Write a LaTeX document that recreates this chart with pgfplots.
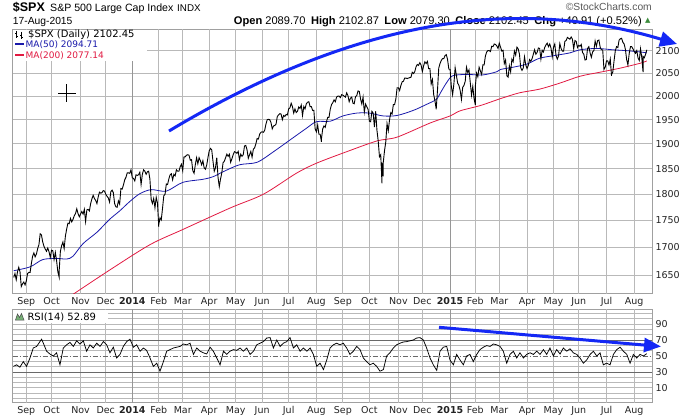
\documentclass[border=0pt]{standalone}
\usepackage{fontspec}
\setmainfont{DejaVu Sans}
\newfontfamily\arialf{Liberation Sans}
\usepackage{pgfplots}
\pgfplotsset{compat=1.18}
\usetikzlibrary{arrows.meta}

\definecolor{gridgray}{RGB}{185,185,185}
\definecolor{yeargray}{RGB}{150,150,150}
\definecolor{framegray}{RGB}{160,160,160}
\definecolor{ticktext}{RGB}{35,35,35}
\definecolor{maf}{RGB}{25,25,170}
\definecolor{mat}{RGB}{225,25,65}
\definecolor{annot}{RGB}{20,40,245}
\definecolor{refline}{RGB}{105,105,105}
\definecolor{upgreen}{RGB}{60,140,60}

% x = trading day, 0 = 2 Jan 2014
\pgfplotsset{
  chartbase/.style={
    scale only axis, width=639.3pt,
    xmin=-94.8, xmax=412.1,
    xtick={-84,-64,-41,-21,0,21,40,61,82,103,124,146,167,188,211,230,252,272,291,313,334,354,376,398},
    xticklabels={Sep,Oct,Nov,Dec,\textbf{2014},Feb,Mar,Apr,May,Jun,Jul,Aug,Sep,Oct,Nov,Dec,\textbf{2015},Feb,Mar,Apr,May,Jun,Jul,Aug},
    extra x ticks={-84,-64,-41,-21,21,40,61,82,103,124,146,167,188,211,230,272,291,313,334,354,376,398},
    extra x tick labels={},
    extra x tick style={grid=major, major grid style={draw=gridgray, line width=1pt}},
    extra y tick labels={},
    extra y tick style={grid=major, major grid style={draw=gridgray, line width=1pt}},
    yticklabel pos=right,
    major tick length=0pt, minor tick length=0pt,
    ticklabel style={font=\fontsize{9.5}{11}\selectfont, text=ticktext},
    /pgf/number format/assume math mode=true,
    axis line style={draw=framegray, line width=1pt},
  }
}

\begin{document}
\begin{tikzpicture}
\useasboundingbox (0,0) rectangle (692pt,-419pt);

% ---------------- price panel ----------------
\begin{axis}[chartbase,
  at={(12.7pt,-29.3pt)}, anchor=north west, height=264.7pt,
  ymode=log, ymin=1617.2, ymax=2148.9,
  ytick={1650,1700,1750,1800,1850,1900,1950,2000,2050,2100},
  yticklabels={1650,1700,1750,1800,1850,1900,1950,2000,2050,2100},
  extra y ticks={1650,1700,1750,1800,1850,1900,1950,2000,2050,2100},
]
\draw[yeargray, line width=1pt] (axis cs:0,1617.2) -- (axis cs:0,2148.9);
\draw[yeargray, line width=1pt] (axis cs:252,1617.2) -- (axis cs:252,2148.9);
% MA(200)
\addplot[mat, line width=0.8pt, smooth] coordinates {
 (-48,1615) (-18,1659) (14,1705) (40,1733) (78,1774) (104,1800) (130,1841)
 (146,1861) (170,1884) (194,1906) (210,1914) (236,1943) (252,1958) (260,1969)
 (276,1980) (292,1995) (307,2007) (323,2015) (339,2028) (355,2043) (371,2052)
 (387,2061) (403,2072) (408,2077)};
% MA(50)
\addplot[maf, line width=0.8pt, smooth] coordinates {
 (-94,1658) (-81,1665) (-71,1678) (-60,1680) (-52,1679) (-47,1684) (-39,1707)
 (-28,1728) (-18,1752) (-10,1768) (-2,1786) (6,1801) (15,1809) (27,1806)
 (40,1823) (56,1829) (64,1834) (72,1844) (85,1858) (99,1863) (112,1884)
 (125,1908) (138,1932) (146,1946) (157,1947) (167,1958) (178,1964) (188,1964)
 (199,1958) (210,1959) (223,1970) (233,1982) (241,1993) (245,2010) (249,2028)
 (254,2044) (265,2047) (278,2046) (289,2053) (292,2058) (302,2063) (313,2070)
 (323,2083) (337,2090) (347,2095) (355,2102) (368,2105) (381,2102) (392,2100)
 (403,2097) (408,2095)};
% daily closes (with a few intraday lows)
\addplot[black, line width=0.9pt] coordinates {
 (-94,1646) (-93,1653) (-92,1642) (-91,1656) (-90,1664) (-89,1656) (-88,1630) (-87,1635) (-86,1638) (-85,1633)
 (-84,1640) (-83,1653) (-82,1655) (-81,1655) (-80,1671) (-79,1684) (-78,1690) (-77,1683) (-76,1688) (-75,1698)
 (-74,1705) (-73,1725) (-72,1723) (-71,1710) (-70,1702) (-69,1697) (-68,1693) (-67,1699) (-66,1692) (-65,1682)
 (-64,1695) (-63,1694) (-62,1678) (-61,1691) (-60,1676) (-59,1656) (-58,1647) (-58,1656) (-57,1693) (-56,1703) (-55,1710)
 (-54,1698) (-53,1721) (-52,1734) (-51,1745) (-50,1744) (-49,1754) (-48,1747) (-47,1752) (-46,1759) (-45,1763)
 (-44,1772) (-43,1763) (-42,1757)
 (-41,1762) (-40,1767) (-39,1762) (-38,1771) (-37,1748) (-36,1770) (-35,1771) (-34,1768) (-33,1782) (-32,1791)
 (-31,1798) (-30,1792) (-29,1788) (-28,1782) (-27,1795) (-26,1804) (-25,1802) (-24,1803) (-23,1807) (-22,1806)
 (-21,1800) (-20,1796) (-19,1793) (-18,1785) (-17,1805) (-16,1808) (-15,1803) (-14,1782) (-13,1776) (-12,1775)
 (-11,1787) (-10,1781) (-9,1811) (-8,1810) (-7,1818) (-6,1828) (-5,1833) (-4,1842) (-3,1842) (-2,1841) (-1,1848)
 (0,1832) (1,1831) (2,1826) (3,1838) (4,1837) (5,1838) (6,1843) (7,1819) (8,1839) (9,1848)
 (10,1845) (11,1839) (12,1844) (13,1845) (14,1829) (15,1790) (16,1782) (17,1792) (18,1774) (19,1794) (20,1783)
 (21,1738) (21,1742) (22,1755) (23,1751) (24,1773) (25,1797) (26,1800) (27,1820) (28,1819) (29,1830) (30,1838)
 (31,1840) (32,1828) (33,1839) (34,1836) (35,1848) (36,1845) (37,1845) (38,1854) (39,1859)
 (40,1846) (41,1874) (42,1874) (43,1877) (44,1878) (45,1877) (46,1867) (47,1868) (48,1846) (49,1841)
 (50,1858) (51,1872) (52,1860) (53,1872) (54,1866) (55,1858) (56,1866) (57,1852) (58,1849) (59,1857) (60,1872)
 (61,1886) (62,1891) (63,1888) (64,1865) (65,1845) (66,1852) (67,1872) (68,1833) (69,1815) (70,1830)
 (71,1842) (72,1862) (73,1865) (74,1872) (75,1879) (76,1875) (77,1879) (78,1863) (79,1870) (80,1878) (81,1884)
 (82,1883) (83,1881) (84,1885) (85,1868) (86,1879) (87,1875) (88,1878) (89,1896) (90,1897) (91,1888)
 (92,1871) (93,1878) (94,1885) (95,1873) (96,1889) (97,1892) (98,1900) (99,1911) (100,1910) (101,1920) (102,1924)
 (103,1925) (104,1924) (105,1928) (106,1941) (107,1950) (108,1951) (109,1950) (110,1944) (111,1931) (112,1937)
 (113,1938) (114,1941) (115,1957) (116,1960) (117,1963) (118,1962) (119,1950) (120,1959) (121,1957) (122,1961) (123,1960)
 (124,1973) (125,1975) (126,1985) (127,1978) (128,1964) (129,1973) (130,1965) (131,1968) (132,1977) (133,1974)
 (134,1981) (135,1959) (136,1978) (137,1973) (138,1984) (139,1987) (140,1988) (141,1978) (142,1978) (143,1970)
 (144,1970) (145,1931)
 (146,1925) (147,1939) (148,1920) (149,1920) (150,1904) (150,1910) (151,1931) (152,1937) (153,1934) (154,1946) (155,1955)
 (156,1955) (157,1972) (158,1982) (159,1986) (160,1992) (161,1988) (162,1998) (163,2000) (164,2000) (165,1997) (166,2003)
 (167,2002) (168,2000) (169,1998) (170,2007) (171,2001) (172,1988) (173,1996) (174,1998) (175,1985) (176,1984)
 (177,1999) (178,2001) (179,2011) (180,2010) (181,1994) (182,1983) (183,1998) (184,1966) (185,1983) (186,1977) (187,1972)
 (188,1947) (189,1946) (190,1968) (191,1964) (192,1935) (193,1968) (194,1928) (195,1906) (196,1874) (197,1878)
 (198,1821) (198,1862) (199,1835) (199,1862) (200,1886) (201,1904) (202,1942) (203,1927) (204,1950) (205,1965) (206,1962)
 (207,1982) (208,1982) (209,1994) (210,2018)
 (211,2018) (212,2012) (213,2023) (214,2031) (215,2032) (216,2039) (217,2039) (218,2038) (219,2039) (220,2040)
 (221,2041) (222,2052) (223,2049) (224,2053) (225,2064) (226,2069) (227,2067) (228,2073) (229,2068)
 (230,2053) (231,2066) (232,2075) (233,2071) (234,2076) (235,2060) (236,2060) (237,2026) (238,2036) (239,2003)
 (240,1990) (241,1972) (241,1973) (242,2012) (243,2061) (244,2071) (245,2078) (246,2082) (247,2082) (248,2089) (249,2091)
 (250,2080) (251,2059)
 (252,2058) (253,2021) (254,2003) (255,2026) (256,2062) (257,2045) (258,2028) (259,2023) (260,2012) (261,1993)
 (262,2019) (263,2023) (264,2032) (265,2063) (266,2051) (267,2057) (268,2029) (269,2002) (270,2021) (271,1995)
 (272,1981) (272,2021) (273,2050) (274,2042) (275,2063) (276,2055) (277,2047) (278,2068) (279,2068) (280,2088) (281,2097)
 (282,2100) (283,2100) (284,2098) (285,2110) (286,2109) (287,2115) (288,2114) (289,2111) (290,2105)
 (291,2117) (292,2108) (293,2099) (294,2101) (295,2071) (296,2079) (297,2044) (298,2041) (299,2066) (300,2053)
 (301,2081) (302,2075) (303,2099) (304,2090) (305,2108) (306,2104) (307,2092) (308,2062) (309,2056) (310,2061)
 (311,2086) (312,2068)
 (313,2060) (314,2067) (315,2080) (316,2076) (317,2082) (318,2092) (319,2102) (320,2092) (321,2096) (322,2106)
 (323,2105) (324,2081) (325,2101) (326,2097) (327,2107) (328,2113) (329,2117) (330,2109) (331,2115) (332,2106) (333,2086)
 (334,2108) (335,2115) (336,2089) (337,2081) (338,2088) (339,2116) (340,2105) (341,2099) (342,2099) (343,2121)
 (344,2123) (345,2130) (346,2128) (347,2126) (348,2131) (349,2126) (350,2104) (351,2123) (352,2121) (353,2107)
 (354,2112) (355,2110) (356,2114) (357,2096) (358,2092) (359,2079) (360,2080) (361,2105) (362,2109) (363,2095)
 (364,2085) (365,2097) (366,2100) (367,2122) (368,2110) (369,2123) (370,2124) (371,2108) (372,2102) (373,2102)
 (374,2058) (375,2063)
 (376,2077) (377,2077) (378,2068) (379,2081) (380,2044) (380,2047) (381,2052) (382,2077) (383,2100) (384,2109) (385,2107)
 (386,2124) (387,2127) (388,2128) (389,2119) (390,2115) (391,2103) (392,2080) (393,2068) (394,2093) (395,2109)
 (396,2109) (397,2104)
 (398,2098) (399,2094) (400,2100) (401,2084) (402,2078) (403,2104) (404,2084) (405,2052) (405,2087) (406,2084)
 (407,2092) (408,2102)};
\end{axis}

% ---------------- RSI panel ----------------
\begin{axis}[chartbase,
  at={(12.7pt,-309.3pt)}, anchor=north west, height=93.4pt,
  ymin=-8.4, ymax=108.4,
  ytick={10,30,50,70,90},
  extra y ticks={-3.33,3.33,10,16.67,23.33,36.67,43.33,56.67,63.33,76.67,83.33,90,96.67,103.33},
]
\draw[yeargray, line width=1pt] (axis cs:0,-8.4) -- (axis cs:0,108.4);
\draw[yeargray, line width=1pt] (axis cs:252,-8.4) -- (axis cs:252,108.4);
\addplot[refline, line width=0.9pt] coordinates {(-94.8,70) (412.1,70)};
\addplot[refline, line width=0.9pt] coordinates {(-94.8,30) (412.1,30)};
\addplot[refline, line width=0.8pt, dash pattern=on 5pt off 2pt on 1pt off 2pt] coordinates {(-94.8,50) (412.1,50)};
\addplot[black, line width=0.75pt] coordinates {
 (-94.3,37) (-91.7,39) (-89.1,36) (-86.4,43) (-83.8,37) (-81.1,47.5) (-78.5,60) (-75.8,62) (-73.2,68) (-71.9,71)
 (-70.5,66) (-67.9,56) (-65.3,52.5) (-62.6,50) (-60.0,54) (-57.3,39) (-54.7,60) (-52.0,64) (-49.4,67) (-46.7,62)
 (-44.1,69) (-41.5,65) (-38.8,69) (-36.2,56) (-33.5,64) (-30.9,60) (-28.2,66) (-25.6,62) (-22.9,68) (-20.3,64)
 (-17.7,54) (-15.0,61) (-12.4,47.5) (-9.7,52) (-7.1,62) (-4.4,68) (-1.8,71) (0.9,61) (3.5,64) (6.2,56)
 (8.8,60) (11.4,57) (14.1,47.5) (16.7,37) (19.4,41) (22.0,31) (24.7,43) (27.3,56) (30.0,58) (32.6,60)
 (35.2,61) (37.9,62) (40.5,65) (43.2,64) (45.8,66) (48.5,52) (51.1,60) (53.8,56) (56.4,54) (59.0,52.5)
 (61.7,61) (64.3,56) (67.0,47.5) (69.6,39) (72.3,56) (74.9,52) (77.5,56) (80.2,58) (82.8,57) (85.5,60)
 (88.1,56) (90.8,60) (93.4,52) (96.1,56) (98.7,64) (101.3,66) (104.0,68) (106.6,72.5) (109.3,73) (111.9,60)
 (114.6,70) (117.2,62) (119.8,66) (122.5,68) (125.1,73) (127.8,60) (130.4,64) (133.1,56) (135.7,60) (138.4,56)
 (141.0,60) (143.6,52) (146.3,37) (148.9,41) (151.6,33) (154.2,45)
 (156.8,60) (159.4,64) (162.0,66) (164.7,64) (167.3,66) (170.0,60) (172.6,52) (175.3,56) (177.9,62) (180.6,58)
 (183.2,47.5) (185.8,43) (188.5,39) (191.1,41) (193.8,37) (196.4,31) (199.1,33) (201.7,50) (204.3,54) (207.0,60)
 (209.6,64) (212.3,66) (214.9,67.5) (217.6,68) (220.2,69) (222.8,70) (225.5,72.5) (228.1,73) (230.8,70) (233.4,60)
 (236.1,47.5) (238.7,39) (241.4,32) (244.0,56) (246.6,61) (249.3,62) (251.9,45) (254.6,39) (257.2,52) (259.9,45)
 (262.5,39) (265.1,50) (267.8,52) (270.4,43) (273.1,52) (275.7,58) (278.4,61) (281.0,63) (283.7,62) (286.3,65)
 (288.9,64) (291.6,62) (294.2,56) (296.9,41) (299.5,52) (302.2,56) (304.8,47.5) (307.4,54) (310.1,47.5) (312.7,52)
 (315.4,54) (318.0,52) (320.7,56) (323.3,52) (326.0,58) (328.6,52) (331.2,60) (333.9,50) (336.5,58) (339.2,52.5)
 (341.8,60) (344.5,56) (347.1,59) (349.7,54) (352.4,52) (355.0,47.5) (357.7,41) (360.3,45) (363.0,52) (365.6,56)
 (368.3,50) (370.9,54) (373.5,39) (376.2,41) (378.8,39) (381.5,52) (384.1,58) (386.8,61) (389.4,56) (392.1,52)
 (394.7,41) (397.3,52) (400.0,47.5) (402.6,52) (405.3,50) (407.9,52.9)};
\end{axis}

% ---------------- texts and annotations (1pt = 1px, y down) ----------------
\begin{scope}[x=1pt, y=-1pt, every node/.style={inner sep=0pt}]
  % header
  \node[anchor=base west] at (12.7,12) {\arialf\bfseries\fontsize{12.5}{14}\selectfont \$SPX};
  \node[anchor=base west] at (50,11.5) {\arialf\fontsize{10.6}{12}\selectfont S\&P 500 Large Cap Index};
  \node[anchor=base west] at (177,11.5) {\arialf\fontsize{9.8}{12}\selectfont INDX};
  \node[anchor=base west] at (12.7,25) {\arialf\fontsize{10.3}{12}\selectfont 17-Aug-2015};
  \node[anchor=base east] at (642,25) {\arialf\fontsize{11.1}{12}\selectfont
    \textbf{Open} 2089.70\enspace\textbf{High} 2102.87\enspace\textbf{Low} 2079.30\enspace\textbf{Close} 2102.45\enspace\textbf{Chg} +40.91 (+0.52\%)};
  \node[anchor=base west, text=upgreen] at (645,23) {\fontsize{7}{8}\selectfont ▲};
  \node[anchor=base east, text=black!65] at (652,11) {\arialf\fontsize{10.3}{12}\selectfont ©StockCharts.com};

  % legend of price panel
  \fill[white] (13.4,30) rectangle (147,61);
  \draw[black, line width=0.8pt] (16.5,31) -- (16.5,38) (15,33) -- (16.5,33) (16.5,36) -- (18,36)
                                  (21.5,32) -- (21.5,39) (20,35) -- (21.5,35) (21.5,37) -- (23,37);
  \node[anchor=base west] at (28,37.7) {\fontsize{10}{12}\selectfont \$SPX (Daily) 2102.45};
  \draw[maf, line width=2pt] (15,44.5) -- (24,44.5);
  \node[anchor=base west, text=maf] at (25.5,48) {\fontsize{9}{11}\selectfont MA(50) 2094.71};
  \draw[mat, line width=2pt] (15,55) -- (24,55);
  \node[anchor=base west, text=mat] at (25.5,58.5) {\fontsize{9}{11}\selectfont MA(200) 2077.14};

  % RSI legend
  \fill[white] (13.4,310) rectangle (108,323);
  \filldraw[fill=upgreen!70, draw=black!70, line width=0.5pt] (15.5,320) -- (17.5,314) -- (19.5,317.5) -- (21.5,313.5) -- (24,320) -- cycle;
  \node[anchor=base west] at (27.3,320.3) {\fontsize{10}{12}\selectfont RSI(14) 52.89};

  % cross
  \draw[black, line width=0.8pt] (58,93.3) -- (75.5,93.3) (66.7,84.5) -- (66.7,102);

  % annotation arrows
  \draw[annot, line width=3pt, -{Triangle[length=17pt,width=15pt]}]
    (169,131) .. controls (369,11) and (527,-1) .. (677,44);
  \draw[annot, line width=3pt, -{Triangle[length=17pt,width=14pt]}] (439,327.3) -- (661,346.5);
\end{scope}
\end{tikzpicture}
\end{document}
